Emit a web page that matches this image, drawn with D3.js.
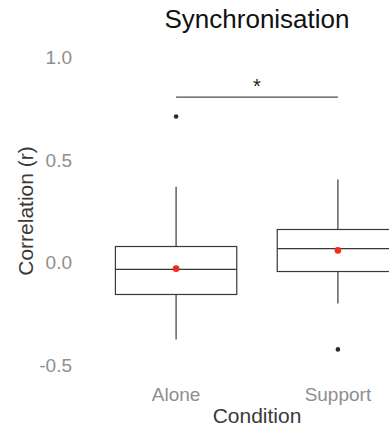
<!DOCTYPE html>
<meta charset="utf-8">
<html>
  <head>
    <title>Synchronisation</title>
    <script src="https://d3js.org/d3.v7.min.js"></script>
    <style>
      body { margin: 0; background: #fff; font-family: "Liberation Sans", Arial, sans-serif; }
      .tick-label { fill: #8e8e8e; font-size: 19px; }
      .axis-title { fill: #3a3a3a; font-size: 21px; }
    </style>
  </head>
  <body>
    <svg id="chart" width="389" height="428"></svg>
    <script>
      // data
      const conditions = ["Alone", "Support"];
      const q1 = [-0.156, -0.044];
      const medians = [-0.034, 0.068];
      const q3 = [0.078, 0.161];
      const whiskerLow = [-0.376, -0.2];
      const whiskerHigh = [0.37, 0.405];
      const means = [-0.03, 0.059];
      const outliers = [[0.712], [-0.424]];
      const yTicks = [-0.5, 0.0, 0.5, 1.0];
      const yTickLabels = ["-0.5", "0.0", "0.5", "1.0"];
      const bracketY = 0.807;

      const width = 389, height = 428;
      const svg = d3.select("#chart");

      const x = d3.scalePoint()
                  .domain(conditions)
                  .range([79, 435])
                  .padding(0.6);
      const y = d3.scaleLinear()
                  .domain([-0.5, 1.0])
                  .range([365, 57.5]);
      const boxW = 0.75 * x.step();

      // title
      svg.append("text")
         .attr("x", 257).attr("y", 28)
         .attr("text-anchor", "middle")
         .style("font-size", "26px").style("fill", "#111")
         .text("Synchronisation");

      // y tick labels
      svg.selectAll("text.ytick")
         .data(yTicks)
         .enter().append("text")
           .attr("class", "tick-label ytick")
           .attr("x", 72)
           .attr("y", d => y(d))
           .attr("dy", "0.36em")
           .attr("text-anchor", "end")
           .text((d, i) => yTickLabels[i]);

      // x tick labels
      svg.selectAll("text.xtick")
         .data(conditions)
         .enter().append("text")
           .attr("class", "tick-label xtick")
           .attr("x", d => x(d))
           .attr("y", 401)
           .attr("text-anchor", "middle")
           .text(d => d);

      // axis titles
      svg.append("text")
         .attr("class", "axis-title")
         .attr("x", 257).attr("y", 423)
         .attr("text-anchor", "middle")
         .text("Condition");
      svg.append("text")
         .attr("class", "axis-title")
         .attr("transform", "translate(33," + 211 + ") rotate(-90)")
         .attr("text-anchor", "middle")
         .text("Correlation (r)");

      const g = svg.append("g")
                   .attr("stroke", "#383838")
                   .attr("stroke-width", 1.2)
                   .attr("fill", "none");

      conditions.forEach((c, i) => {
        const cx = x(c);
        // whiskers
        g.append("line")
         .attr("x1", cx).attr("x2", cx)
         .attr("y1", y(q3[i])).attr("y2", y(whiskerHigh[i]));
        g.append("line")
         .attr("x1", cx).attr("x2", cx)
         .attr("y1", y(q1[i])).attr("y2", y(whiskerLow[i]));
        // box
        g.append("rect")
         .attr("x", cx - boxW / 2)
         .attr("y", y(q3[i]))
         .attr("width", boxW)
         .attr("height", y(q1[i]) - y(q3[i]))
         .attr("fill", "#fff");
        // median
        g.append("line")
         .attr("x1", cx - boxW / 2).attr("x2", cx + boxW / 2)
         .attr("y1", y(medians[i])).attr("y2", y(medians[i]));
        // outliers
        outliers[i].forEach(v => {
          svg.append("circle")
             .attr("cx", cx).attr("cy", y(v))
             .attr("r", 2.3)
             .attr("fill", "#2b2b2b");
        });
        // mean
        svg.append("circle")
           .attr("cx", cx).attr("cy", y(means[i]))
           .attr("r", 3.3)
           .attr("fill", "#f42a1e");
      });

      // significance bracket
      svg.append("line")
         .attr("x1", x("Alone")).attr("x2", x("Support"))
         .attr("y1", y(bracketY)).attr("y2", y(bracketY))
         .attr("stroke", "#4a4a4a")
         .attr("stroke-width", 1.2);
      svg.append("text")
         .attr("x", (x("Alone") + x("Support")) / 2)
         .attr("y", y(bracketY) - 4)
         .attr("text-anchor", "middle")
         .style("font-size", "20px").style("fill", "#222")
         .text("*");
    </script>
  </body>
</html>
